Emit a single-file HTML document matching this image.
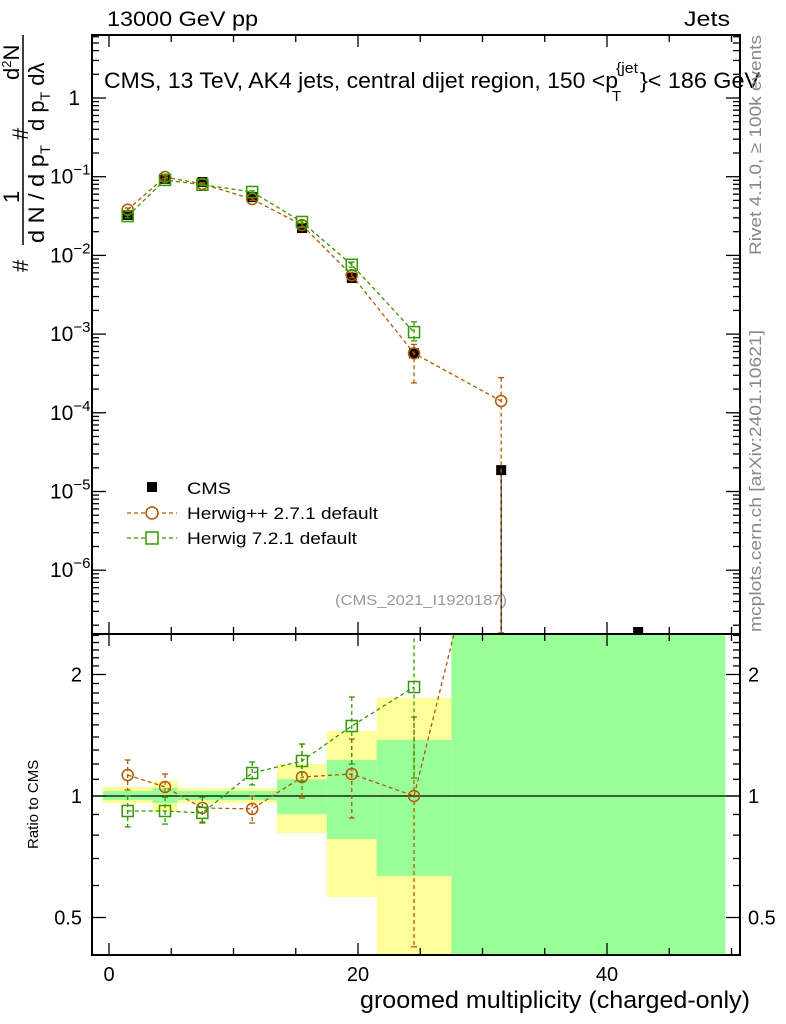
<!DOCTYPE html>
<html><head><meta charset="utf-8"><style>
html,body{margin:0;padding:0;background:#fff}
svg{display:block;font-family:"Liberation Sans",sans-serif}
</style></head><body>
<svg id="chart" width="786" height="1024" viewBox="0 0 786 1024" xmlns="http://www.w3.org/2000/svg">
<g id="bands"></g>
<g id="marks"></g>
<g id="axes"></g>
<text x="107" y="26" font-size="21" textLength="151" lengthAdjust="spacingAndGlyphs">13000 GeV pp</text>
<text x="684" y="26" font-size="21" textLength="46" lengthAdjust="spacingAndGlyphs">Jets</text>
<g font-size="22">
<text x="104" y="88" textLength="514" lengthAdjust="spacingAndGlyphs">CMS, 13 TeV, AK4 jets, central dijet region, 150 &lt;p</text>
<text x="612" y="101" font-size="15">T</text>
<text x="616" y="73" font-size="15" textLength="22" lengthAdjust="spacingAndGlyphs">{jet</text>
<text x="640" y="88" textLength="120" lengthAdjust="spacingAndGlyphs">}&lt; 186 GeV</text>
</g>
<text x="335" y="605" font-size="15" fill="#999" textLength="172" lengthAdjust="spacingAndGlyphs">(CMS_2021_I1920187)</text>
<text transform="translate(761,255) rotate(-90)" font-size="17" fill="#888" textLength="220" lengthAdjust="spacingAndGlyphs">Rivet 4.1.0, ≥ 100k events</text>
<text transform="translate(761,632) rotate(-90)" font-size="17" fill="#888" textLength="302" lengthAdjust="spacingAndGlyphs">mcplots.cern.ch [arXiv:2401.10621]</text>
<g font-size="22">
<text transform="translate(28,272) rotate(-90)">#</text>
<text transform="translate(19,203) rotate(-90)">1</text>
<line x1="23" y1="245" x2="23" y2="35" stroke="#000" stroke-width="1.5"/>
<text transform="translate(44,243) rotate(-90)" textLength="98" lengthAdjust="spacingAndGlyphs">d N / d p<tspan font-size="14" dy="6">T</tspan></text>
<text transform="translate(28,140) rotate(-90)">#</text>
<text transform="translate(19,80) rotate(-90)">d<tspan font-size="13" dy="-8">2</tspan><tspan dy="8">N</tspan></text>
<text transform="translate(44,131) rotate(-90)">d p<tspan font-size="14" dy="6">T</tspan><tspan dy="-6"> dλ</tspan></text>
</g>
<text transform="translate(38,849) rotate(-90)" font-size="15">Ratio to CMS</text>
<text x="360" y="1008" font-size="24" textLength="390" lengthAdjust="spacingAndGlyphs">groomed multiplicity (charged-only)</text>
<g font-size="17">
<g><rect x="147" y="482" width="10" height="10" fill="#000"/><text x="187" y="494" textLength="44" lengthAdjust="spacingAndGlyphs">CMS</text></g>
<g><line x1="127" y1="513" x2="177" y2="513" stroke="#b35900" stroke-dasharray="4,3" stroke-width="1.3"/><circle cx="152" cy="513" r="6" fill="#fff" stroke="#b35900" stroke-width="1.5"/><text x="187" y="519" textLength="191" lengthAdjust="spacingAndGlyphs">Herwig++ 2.7.1 default</text></g>
<g><line x1="127" y1="538" x2="177" y2="538" stroke="#339900" stroke-dasharray="4,3" stroke-width="1.3"/><rect x="146" y="532" width="12" height="12" fill="#fff" stroke="#339900" stroke-width="1.5"/><text x="187" y="544" textLength="170" lengthAdjust="spacingAndGlyphs">Herwig 7.2.1 default</text></g>
</g>
<script>
// ---- data ----
const xPts = [1.5, 4.5, 7.5, 11.5, 15.5, 19.5, 24.5, 31.5, 42.5];
const cmsVals = [0.0326, 0.094, 0.0857, 0.055, 0.0223, 0.00516, 0.00057, 1.87e-5, 1.64e-7];
const hppVals = [0.038, 0.099, 0.081, 0.052, 0.0243, 0.0056, 0.00057, 1.41e-4];
const hppLo = [0.036, 0.095, 0.078, 0.050, 0.0232, 0.0052, 0.00024, 1.6e-7];
const hppHi = [0.040, 0.103, 0.084, 0.054, 0.0256, 0.0061, 0.00074, 2.8e-4];
const h7Vals = [0.0316, 0.091, 0.079, 0.064, 0.0266, 0.0076, 0.00106];
const h7Lo = [0.030, 0.088, 0.077, 0.062, 0.0255, 0.0071, 0.00082];
const h7Hi = [0.033, 0.094, 0.081, 0.066, 0.0277, 0.0082, 0.00143];
const bandEdges = [-0.5, 3.5, 5.5, 13.5, 17.5, 21.5, 27.5, 49.5];
const yellowHi = [1.053, 1.089, 1.047, 1.20, 1.45, 1.75, 3.0];
const yellowLo = [0.961, 0.913, 0.961, 0.81, 0.562, 0.3, 0.3];
const greenHi = [1.029, 1.047, 1.029, 1.10, 1.228, 1.376, 3.0];
const greenLo = [0.977, 0.961, 0.977, 0.902, 0.782, 0.634, 0.3];
const hppRatio = [1.127, 1.053, 0.934, 0.929, 1.114, 1.134, 1.0, 7.5];
const hppRLo = [1.035, 0.994, 0.862, 0.857, 0.989, 0.882, 0.423, 7.5];
const hppRHi = [1.228, 1.134, 0.994, 1.0, 1.345, 1.384, 1.569, 7.5];
const h7Ratio = [0.918, 0.918, 0.908, 1.140, 1.221, 1.491, 1.862];
const h7RLo = [0.838, 0.852, 0.857, 1.065, 1.089, 1.20, 1.108];
const h7RHi = [1.0, 0.994, 0.994, 1.214, 1.345, 1.759, 3.0];
const xTicks = [0, 20, 40];
const mainYExp = [0, -1, -2, -3, -4, -5, -6];
const ratioTicks = [0.5, 1, 2];

// ---- axes ----
const L = 92, R = 740, T = 35, MB = 634, RB = 955;
const X = v => 109 + (v) * 12.45;
const Y = v => 98 - Math.log10(v) * 78.7;
const YR = v => 796 - Math.log2(v) * 121.5;
const NS = 'http://www.w3.org/2000/svg';
function mk(tag, attrs, parent) {
  const e = document.createElementNS(NS, tag);
  for (const k in attrs) e.setAttribute(k, attrs[k]);
  parent.appendChild(e);
  return e;
}
const bands = document.getElementById('bands');
const marks = document.getElementById('marks');
const axes = document.getElementById('axes');

const defs = mk('defs', {}, marks);
const c1 = mk('clipPath', {id: 'cm'}, defs); mk('rect', {x: L, y: T, width: R - L, height: MB - T}, c1);
const c2 = mk('clipPath', {id: 'cr'}, defs); mk('rect', {x: L, y: MB, width: R - L, height: RB - MB}, c2);

for (let i = 0; i < yellowHi.length; i++) {
  const x0 = X(bandEdges[i]), x1 = X(bandEdges[i + 1]);
  const yt = Math.max(MB, YR(yellowHi[i])), ybm = Math.min(RB, YR(yellowLo[i]));
  const yb = mk('rect', {x: x0, y: yt, width: x1 - x0, height: ybm - yt, fill: '#ffff99'}, bands);
  
  
  const gt = Math.max(MB, YR(greenHi[i])), gbm = Math.min(RB, YR(greenLo[i]));
  const gb = mk('rect', {x: x0, y: gt, width: x1 - x0, height: gbm - gt, fill: '#99ff99'}, bands);
  
  
}
mk('line', {x1: L, y1: YR(1), x2: R, y2: YR(1), stroke: '#000', 'stroke-width': 1.3}, bands);

function series(vals, lo, hi, yf, color, shape, clip, name) {
  const g = mk('g', {'clip-path': 'url(#' + clip + ')'}, marks);
  
  
  const pts = vals.map((v, i) => X(xPts[i]) + ',' + yf(v)).join(' ');
  mk('polyline', {points: pts, fill: 'none', stroke: color, 'stroke-width': 1.3, 'stroke-dasharray': '4,3'}, g);
  vals.forEach((v, i) => {
    const x = X(xPts[i]);
    mk('line', {x1: x, y1: yf(hi[i]), x2: x, y2: yf(lo[i]), stroke: color, 'stroke-width': 1.3, 'stroke-dasharray': '4,3'}, g);
    mk('line', {x1: x - 3, y1: yf(hi[i]), x2: x + 3, y2: yf(hi[i]), stroke: color, 'stroke-width': 1.3}, g);
    mk('line', {x1: x - 3, y1: yf(lo[i]), x2: x + 3, y2: yf(lo[i]), stroke: color, 'stroke-width': 1.3}, g);
    let m;
    if (shape === 'c') m = mk('circle', {cx: x, cy: yf(v), r: 5.5, fill: 'none', stroke: color, 'stroke-width': 1.5}, g);
    else m = mk('rect', {x: x - 5.5, y: yf(v) - 5.5, width: 11, height: 11, fill: 'none', stroke: color, 'stroke-width': 1.5}, g);
    
    
  });
}
const gc = mk('g', {'clip-path': 'url(#cm)'}, marks);


mk('line', {x1: X(31.5), y1: Y(cmsVals[7]), x2: X(31.5), y2: MB, stroke: '#000', 'stroke-width': 1.3}, gc);
cmsVals.forEach((v, i) => {
  const r = mk('rect', {x: X(xPts[i]) - 5, y: Y(v) - 5, width: 10, height: 10, fill: '#000'}, gc);
  
  
});
series(hppVals, hppLo, hppHi, Y, '#b35900', 'c', 'cm', 'herwigpp-main');
series(h7Vals, h7Lo, h7Hi, Y, '#339900', 's', 'cm', 'herwig7-main');
series(hppRatio, hppRLo, hppRHi, YR, '#b35900', 'c', 'cr', 'herwigpp-ratio');
series(h7Ratio, h7RLo, h7RHi, YR, '#339900', 's', 'cr', 'herwig7-ratio');

mk('rect', {x: L, y: T, width: R - L, height: MB - T, fill: 'none', stroke: '#000', 'stroke-width': 2}, axes);
mk('rect', {x: L, y: MB, width: R - L, height: RB - MB, fill: 'none', stroke: '#000', 'stroke-width': 2}, axes);
for (let v = 0; v <= 50; v += 5) {
  const x = X(v), len = v % 20 === 0 ? 12 : 7;
  [[T, 1], [MB, 1], [MB, -1], [RB, -1]].forEach(([y, d]) => mk('line', {x1: x, y1: y, x2: x, y2: y + d * len, stroke: '#000', 'stroke-width': 1.3}, axes));
}
xTicks.forEach(v => {
  const t = mk('text', {x: X(v), y: 981, 'font-size': 20, 'text-anchor': 'middle'}, axes);
  t.textContent = v;
  
  
});
for (let e = 0; e >= -7; e--) {
  for (let m = 1; m < 10; m++) {
    const y = Y(m * Math.pow(10, e));
    if (y < T || y > MB) continue;
    const len = m === 1 ? 14 : 7;
    mk('line', {x1: L, y1: y, x2: L + len, y2: y, stroke: '#000', 'stroke-width': 1.3}, axes);
    mk('line', {x1: R, y1: y, x2: R - len, y2: y, stroke: '#000', 'stroke-width': 1.3}, axes);
  }
}
mainYExp.forEach(e => {
  const y = Y(Math.pow(10, e)) + 7;
  if (e === 0) {
    const t = mk('text', {x: 80, y: y, 'font-size': 21, 'text-anchor': 'end'}, axes);
    t.textContent = '1';
    
    
  } else {
    const t = mk('text', {x: 50, y: y, 'font-size': 21}, axes);
    
    
    t.appendChild(document.createTextNode('10'));
    const s = mk('tspan', {'font-size': 15, dy: -9}, t);
    s.textContent = '\u2212' + (-e);
  }
});
[0.4,0.5,0.6,0.7,0.8,0.9,1,1.1,1.2,1.3,1.4,1.5,1.6,1.7,1.8,1.9,2,2.1,2.2,2.3,2.4,2.5].forEach(v => {
  const y = YR(v); if (y < MB || y > RB) return;
  const len = ratioTicks.includes(v) ? 14 : 7;
  mk('line', {x1: L, y1: y, x2: L + len, y2: y, stroke: '#000', 'stroke-width': 1.3}, axes);
  mk('line', {x1: R, y1: y, x2: R - len, y2: y, stroke: '#000', 'stroke-width': 1.3}, axes);
});
ratioTicks.forEach(v => {
  [[82, 'end'], [748, 'start']].forEach(([x, a]) => {
    const t = mk('text', {x: x, y: YR(v) + 7, 'font-size': 20, 'text-anchor': a}, axes);
    t.textContent = v;
    
    
  });
});
</script>
</svg>
</body></html>
